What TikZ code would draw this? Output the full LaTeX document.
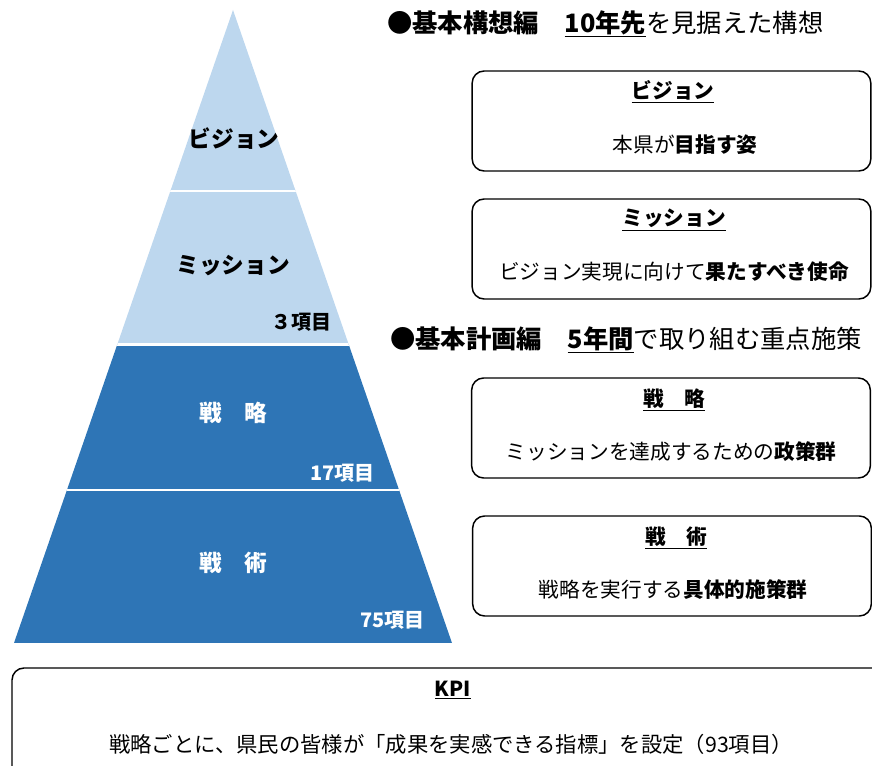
\documentclass[tikz,border=0pt]{standalone}
\usepackage{fontspec}
\setmainfont{Noto Sans CJK JP}
\definecolor{lightpyr}{HTML}{BDD7EE}
\definecolor{darkpyr}{HTML}{2E75B6}

\begin{document}
\begin{tikzpicture}[x=0.75pt,y=-0.75pt]
    \clip (0,0) rectangle (872,766);

    % ============================
    % Left Side: Pyramid
    % ============================

    \tikzstyle{lvl}=[font=\fontsize{17}{20}\selectfont\bfseries,inner sep=0pt]
    \tikzstyle{cnt}=[font=\fontsize{15}{18}\selectfont\bfseries,inner sep=0pt,anchor=east]

    \begin{scope}
        \clip (233,10) -- (452,643) -- (14,643) -- cycle;
        \fill[lightpyr] (0,0) rectangle (460,344);
        \fill[darkpyr] (0,344) rectangle (460,643);
        \draw[white,line width=2pt] (0,191) -- (460,191);
        \draw[white,line width=2.2pt] (0,344.5) -- (460,344.5);
        \draw[white,line width=1.8pt] (0,490) -- (460,490);
    \end{scope}

    \node[lvl] (vis) at (234,139) {ビジョン};
    \node[lvl] (mis) at (233,266) {ミッション};
    \node[cnt] (miscnt) at (332,322) {３項目};
    \node[lvl,white] (str) at (233,413) {戦　略};
    \node[cnt,white] (strcnt) at (375,473) {17項目};
    \node[lvl,white] (tac) at (233,563) {戦　術};
    \node[cnt,white] (taccnt) at (425,620) {75項目};

    % ============================
    % Right Side: Headings and Boxes
    % ============================

    \tikzstyle{head}=[font=\fontsize{19}{22}\selectfont,inner sep=0pt,anchor=west]
    \tikzstyle{box}=[draw=black,line width=1.1pt,rounded corners=9pt,
            minimum width=299pt,minimum height=75pt]
    \tikzstyle{ttl}=[font=\fontsize{15.5}{18}\selectfont\bfseries,inner sep=0pt]
    \tikzstyle{txt}=[font=\fontsize{15.5}{18}\selectfont,inner sep=0pt]

    \node[head] (plan10) at (387,24)
            {\textbf{●基本構想編}　\underline{\textbf{10年先}}を見据えた構想};
    \node[head] (plan5) at (390,340)
            {\textbf{●基本計画編}　\underline{\textbf{5年間}}で取り組む重点施策};

    \node[box] (visbox) at (671.5,121) {};
    \node[ttl] (vistl) at (673,92) {\underline{ビジョン}};
    \node[txt] (vistx) at (685,145) {本県が\textbf{目指す姿}};

    \node[box] (misbox) at (671.5,249) {};
    \node[ttl] (mistl) at (674,220) {\underline{ミッション}};
    \node[txt] (mistx) at (674,272) {ビジョン実現に向けて\textbf{果たすべき使命}};

    \node[box] (strbox) at (671,428) {};
    \node[ttl] (strtl) at (674,400) {\underline{戦　略}};
    \node[txt] (strtx) at (671,452) {ミッションを達成するための\textbf{政策群}};

    \node[box] (tacbox) at (672,566) {};
    \node[ttl] (tactl) at (676,538) {\underline{戦　術}};
    \node[txt] (tactx) at (673,590) {戦略を実行する\textbf{具体的施策群}};

    % ============================
    % Bottom: KPI
    % ============================

    \node[box,minimum width=658.5pt,minimum height=99pt] (kpibox) at (451,734) {};
    \node[ttl] (kpitl) at (453,690) {\underline{KPI}};
    \node[txt,font=\fontsize{16}{18}\selectfont] (kpitx) at (451,744)
            {戦略ごとに、県民の皆様が「成果を実感できる指標」を設定（93項目）};
\end{tikzpicture}
\end{document}
